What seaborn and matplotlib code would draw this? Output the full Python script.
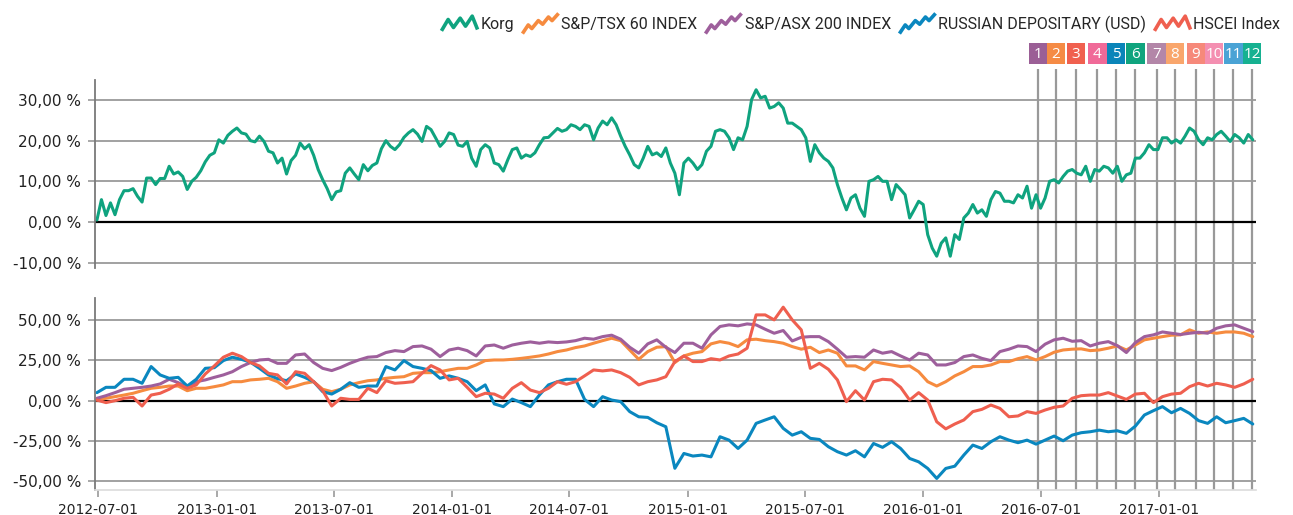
import numpy as np
import pandas as pd
import matplotlib
matplotlib.use("Agg")
import matplotlib.pyplot as plt
import matplotlib.dates as mdates
from matplotlib.lines import Line2D
from matplotlib.markers import MarkerStyle
from matplotlib.path import Path
from matplotlib.patches import Rectangle
from matplotlib.ticker import FuncFormatter
import seaborn as sns


# =====================
# Data (% change since start)
# =====================

# Korg, weekly from 2012-06-29
korg_start = "2012-06-29"
korg = [
    0.5, 5.5, 1.6, 4.7, 1.8, 5.5, 7.7, 7.7, 8.2, 6.3,
    4.9, 10.8, 10.8, 9.2, 10.7, 10.7, 13.7, 11.8, 12.3, 11.2,
    8.0, 10.0, 11.0, 12.6, 14.8, 16.4, 17.0, 20.2, 19.4, 21.3,
    22.3, 23.1, 21.9, 21.6, 20.0, 19.7, 21.1, 19.8, 17.4, 17.0,
    14.5, 15.7, 11.8, 15.1, 16.4, 19.4, 18.0, 19.0, 16.4, 12.9,
    10.4, 8.2, 5.5, 7.4, 7.7, 12.0, 13.3, 11.8, 10.4, 14.1,
    12.6, 13.9, 14.5, 18.0, 20.0, 18.6, 17.8, 19.0, 20.8, 21.9,
    22.7, 21.6, 19.8, 23.5, 22.7, 20.7, 18.6, 19.8, 21.9, 21.5,
    18.9, 18.6, 19.8, 15.7, 13.7, 17.8, 19.0, 18.2, 14.5, 14.1,
    12.5, 15.3, 17.8, 18.2, 15.7, 16.5, 16.1, 17.0, 19.0, 20.7,
    20.8, 21.9, 23.0, 22.3, 22.7, 23.9, 23.5, 22.7, 23.9, 23.5,
    20.2, 23.1, 24.8, 23.9, 25.6, 23.9, 21.1, 18.6, 16.5, 14.1,
    13.3, 15.7, 18.6, 16.5, 17.0, 16.1, 18.2, 14.5, 12.0, 6.7,
    14.5, 15.7, 14.5, 12.9, 14.1, 17.4, 18.6, 22.3, 22.7, 22.3,
    20.7, 17.8, 20.7, 20.2, 23.5, 30.1, 32.5, 30.5, 30.9, 28.0,
    28.4, 29.3, 28.0, 24.3, 24.3, 23.5, 22.7, 20.7, 14.9, 19.0,
    17.0, 15.7, 14.9, 13.3, 9.2, 5.9, 3.0, 5.9, 6.7, 3.4,
    1.4, 10.0, 10.4, 11.2, 10.0, 10.0, 5.5, 9.2, 8.0, 6.7,
    1.0, 3.0, 5.1, 4.3, -3.1, -6.4, -8.4, -5.2, -3.9, -8.4,
    -3.1, -4.3, 1.0, 2.2, 4.3, 2.2, 3.0, 1.4, 5.5, 7.5,
    7.1, 5.1, 5.1, 4.7, 6.7, 5.9, 8.8, 3.4, 6.7, 3.4,
    5.9, 10.0, 10.4, 9.6, 11.2, 12.5, 12.9, 12.0, 11.6, 13.7,
    10.0, 12.9, 12.5, 13.7, 13.3, 12.0, 13.7, 10.0, 11.6, 12.0,
    15.7, 15.7, 17.0, 19.0, 17.8, 17.8, 20.7, 20.7, 19.4, 20.2,
    19.4, 21.1, 23.1, 22.3, 20.2, 19.0, 20.7, 20.2, 21.5, 22.3,
    21.1, 19.8, 21.5, 20.7, 19.4, 21.5, 20.2,
]

# indices, every two weeks from 2012-06-29
index_start = "2012-06-29"

tsx60 = [
    0.4, 1.5, 2.5, 3.5, 4.6, 6.2, 7.7, 8.3, 9.1, 9.1,
    6.2, 7.7, 7.7, 8.7, 9.8, 11.8, 11.8, 12.9, 13.3, 13.9,
    11.8, 7.7, 9.1, 10.8, 11.8, 7.1, 5.6, 7.1, 9.8, 11.2,
    12.4, 12.9, 13.9, 14.5, 14.9, 17.0, 17.4, 17.4, 18.0, 19.1,
    20.1, 20.1, 22.2, 24.9, 25.3, 25.3, 25.7, 26.3, 27.0, 27.8,
    29.0, 30.5, 31.5, 33.0, 34.0, 35.7, 37.3, 38.8, 37.3, 31.5,
    25.7, 30.5, 33.2, 33.6, 23.7, 27.8, 29.5, 30.5, 35.3, 36.7,
    35.7, 33.6, 37.8, 38.2, 37.3, 36.7, 35.7, 33.6, 32.0, 33.2,
    29.9, 31.5, 29.5, 21.6, 21.6, 19.1, 24.3, 23.2, 22.2, 21.2,
    21.6, 18.0, 11.8, 9.1, 11.8, 15.4, 18.0, 21.2, 21.2, 22.2,
    24.3, 24.3, 26.1, 27.4, 25.3, 27.4, 30.1, 31.5, 32.0, 32.2,
    31.1, 31.5, 32.6, 34.0, 31.5, 34.6, 37.8, 38.8, 39.8, 40.7,
    40.9, 44.0, 41.9, 42.7, 41.9, 42.7, 42.7, 41.9, 39.8,
]

asx200 = [
    1.5, 3.1, 5.0, 7.1, 7.7, 8.3, 9.1, 10.4, 13.3, 11.2,
    8.3, 11.8, 12.9, 14.5, 16.0, 18.0, 21.2, 23.7, 25.3, 25.7,
    23.2, 23.2, 28.4, 29.0, 23.7, 20.1, 18.7, 20.7, 23.2, 25.3,
    27.0, 27.4, 29.9, 31.1, 30.5, 33.6, 34.0, 32.0, 27.4, 31.5,
    32.6, 31.1, 27.8, 34.0, 34.6, 32.6, 34.6, 35.7, 36.5, 35.7,
    36.5, 36.1, 36.5, 37.3, 38.8, 38.2, 39.8, 40.7, 38.2, 33.2,
    29.5, 35.3, 37.8, 33.2, 29.9, 35.7, 35.7, 32.6, 40.9, 46.1,
    47.1, 46.5, 47.7, 47.1, 44.4, 41.9, 43.6, 37.1, 39.4, 39.8,
    39.8, 36.7, 32.0, 27.0, 27.4, 27.0, 31.5, 29.5, 30.5, 27.8,
    25.3, 29.5, 28.4, 22.2, 22.2, 23.7, 27.4, 28.4, 26.3, 24.9,
    30.5, 32.0, 34.0, 33.6, 30.5, 35.1, 37.8, 38.8, 36.9, 37.3,
    34.0, 35.7, 36.7, 34.2, 29.9, 36.1, 39.8, 40.9, 42.7, 41.9,
    41.1, 41.9, 42.5, 41.9, 45.0, 46.5, 47.1, 45.0, 42.9,
]

russian_usd = [
    5.0, 8.3, 8.3, 13.3, 13.3, 10.8, 21.2, 16.0, 13.9, 14.5,
    9.1, 13.3, 20.1, 20.5, 24.9, 27.0, 25.7, 23.9, 20.1, 16.0,
    13.7, 12.4, 16.6, 14.5, 11.8, 5.6, 4.1, 7.1, 11.2, 8.3,
    9.1, 9.1, 21.2, 19.1, 24.9, 21.2, 20.1, 18.7, 13.9, 15.4,
    13.9, 11.8, 6.2, 9.8, -2.0, -3.7, 1.0, -1.2, -3.7, 3.5,
    9.8, 11.8, 13.3, 13.3, 0.8, -3.7, 2.5, 0.4, -0.6, -6.8,
    -10.0, -10.4, -13.7, -16.2, -42.0, -32.8, -34.4, -33.8, -34.9, -22.4,
    -24.5, -29.7, -24.5, -14.1, -12.0, -10.0, -17.2, -21.4, -19.3, -23.4,
    -24.1, -28.6, -31.7, -33.8, -31.1, -34.9, -26.6, -29.0, -25.5, -29.7,
    -35.9, -38.0, -42.1, -48.3, -42.1, -40.7, -33.8, -27.6, -29.7, -25.5,
    -22.4, -24.5, -26.1, -24.5, -27.0, -24.5, -22.0, -24.9, -21.4, -19.9,
    -19.3, -18.3, -19.3, -18.7, -20.3, -15.8, -8.9, -6.2, -3.7, -7.5,
    -4.8, -7.9, -12.4, -14.1, -10.0, -13.7, -12.4, -11.0, -14.5,
]

hscei = [
    0.4, -1.2, 0.0, 1.5, 2.1, -3.3, 3.5, 4.6, 7.1, 10.4,
    7.7, 9.8, 16.6, 21.6, 27.0, 29.5, 27.4, 23.7, 21.6, 17.0,
    16.0, 10.4, 18.0, 17.0, 11.8, 6.2, -3.3, 1.5, 0.8, 0.8,
    7.7, 5.0, 12.4, 10.8, 11.2, 11.8, 17.0, 21.8, 19.1, 12.9,
    13.9, 8.3, 2.5, 4.6, 4.1, 1.5, 7.7, 11.2, 6.6, 5.0,
    7.7, 11.8, 10.2, 11.8, 15.4, 19.1, 18.5, 19.1, 17.4, 14.5,
    9.8, 11.8, 12.9, 14.9, 24.3, 27.8, 24.3, 24.3, 26.1, 25.3,
    27.8, 29.0, 32.6, 53.3, 53.3, 50.2, 58.1, 50.2, 44.0, 20.1,
    23.2, 19.5, 12.9, -0.6, 6.2, 0.4, 11.8, 13.3, 12.9, 8.3,
    0.4, 5.0, 0.4, -13.1, -17.5, -14.5, -12.0, -6.8, -5.4, -2.7,
    -4.8, -10.0, -9.5, -6.8, -7.9, -5.8, -4.1, -3.3, 1.5, 3.1,
    3.5, 3.5, 5.0, 2.9, 0.8, 4.1, 4.6, -1.2, 2.5, 4.1,
    4.6, 8.7, 10.8, 9.1, 10.8, 9.8, 8.3, 10.4, 13.3,
]

series_names = [
    "S&P/TSX 60 INDEX",
    "S&P/ASX 200 INDEX",
    "RUSSIAN DEPOSITARY (USD)",
    "HSCEI Index",
]
series_values = [tsx60, asx200, russian_usd, hscei]

event_dates = [
    "2016-06-27", "2016-07-25", "2016-08-25", "2016-09-27",
    "2016-10-26", "2016-11-25", "2016-12-28", "2017-01-25",
    "2017-02-27", "2017-03-27", "2017-04-26", "2017-05-25",
]
event_labels = [str(n) for n in range(1, 13)]

x_ticks = [
    "2012-07-01", "2013-01-01", "2013-07-01", "2014-01-01", "2014-07-01",
    "2015-01-01", "2015-07-01", "2016-01-01", "2016-07-01", "2017-01-01",
]


# =====================
# Styles
# =====================

korg_color = "#0fa37f"
palette = {
    "S&P/TSX 60 INDEX": "#f68b3f",
    "S&P/ASX 200 INDEX": "#9e5f9c",
    "RUSSIAN DEPOSITARY (USD)": "#0a87bf",
    "HSCEI Index": "#ef5f4f",
}
event_colors = [
    "#9b5f96", "#f58b45", "#f0604f", "#f06a98", "#0a85b9", "#10a47e",
    "#b386a8", "#f9a66c", "#f6897a", "#f48fb1", "#4aa3d5", "#16b191",
]
grid_color = "#9a9a9a"

sns.set_theme(style="white")
plt.rcParams["font.family"] = ["DejaVu Sans"]


# =====================
# Frames
# =====================

korg_df = pd.DataFrame({
    "date": pd.date_range(korg_start, periods=len(korg), freq="7D"),
    "value": korg,
})

frames = []
for name, vals in zip(series_names, series_values):
    frames.append(pd.DataFrame({
        "date": pd.date_range(index_start, periods=len(vals), freq="14D"),
        "value": vals,
        "series": name,
    }))
index_df = pd.concat(frames, ignore_index=True)

x_min = pd.Timestamp("2012-06-26")
x_max = pd.Timestamp("2017-05-31")


# =====================
# Figure layout (pixel boxes)
# =====================

W, H = 1293, 515

def px_box(left, top, right, bottom):
    return [left / W, 1 - bottom / H, (right - left) / W, (bottom - top) / H]


fig = plt.figure(figsize=(W / 100, H / 100), dpi=100)

ax_ev = fig.add_axes(px_box(95, 40, 1256, 490), zorder=0)
ax_top = fig.add_axes(px_box(95, 80, 1256, 268), zorder=1)
ax_bot = fig.add_axes(px_box(95, 298, 1256, 490), zorder=1)


# =====================
# Lines
# =====================

sns.lineplot(
    data=korg_df,
    x="date",
    y="value",
    color=korg_color,
    linewidth=2.2,
    ax=ax_top
)

sns.lineplot(
    data=index_df,
    x="date",
    y="value",
    hue="series",
    hue_order=series_names,
    palette=palette,
    linewidth=2.2,
    legend=False,
    ax=ax_bot
)


# =====================
# Axes styling
# =====================

pct_fmt = FuncFormatter(lambda v, _: f"{v:.2f}".replace(".", ",") + " %")

for ax, lims, ticks in [
    (ax_top, (-11.3, 34.9), [-10, 0, 10, 20, 30]),
    (ax_bot, (-55.5, 63.8), [-50, -25, 0, 25, 50]),
]:
    ax.set_facecolor("none")
    ax.set_xlim(x_min, x_max)
    ax.set_ylim(*lims)
    ax.set_yticks(ticks)
    ax.yaxis.set_major_formatter(pct_fmt)
    ax.set_xlabel("")
    ax.set_ylabel("")
    ax.set_axisbelow(True)
    ax.yaxis.grid(True, color=grid_color, linewidth=1.3)
    ax.xaxis.grid(False)
    ax.axhline(0, color="black", linewidth=1.6, zorder=1.5)
    for side in ["top", "right", "bottom"]:
        ax.spines[side].set_visible(False)
    ax.spines["left"].set_color("#7a7a7a")
    ax.spines["left"].set_linewidth(1.3)
    ax.tick_params(
        axis="y",
        left=True,
        length=5,
        width=1.2,
        color=grid_color,
        labelsize=11,
        labelcolor="#222222",
        pad=5
    )

ax_top.tick_params(axis="x", bottom=False, labelbottom=False)

ax_bot.spines["bottom"].set_visible(True)
ax_bot.spines["bottom"].set_color("#dddddd")
ax_bot.set_xticks(pd.to_datetime(x_ticks))
ax_bot.xaxis.set_major_formatter(mdates.DateFormatter("%Y-%m-%d"))
ax_bot.tick_params(
    axis="x",
    bottom=True,
    length=5,
    width=1.2,
    color=grid_color,
    labelsize=10,
    labelcolor="#222222",
    pad=4
)


# =====================
# Event markers
# =====================

ax_ev.set_xlim(x_min, x_max)
ax_ev.set_ylim(490, 40)
ax_ev.axis("off")

ev = pd.to_datetime(event_dates)
ax_ev.vlines(ev, 69, 490, color="#999999", linewidth=1.6)

half = pd.Timedelta(days=14.3)
for d, lab, col in zip(ev, event_labels, event_colors):
    x0 = mdates.date2num(d - half)
    x1 = mdates.date2num(d + half)
    ax_ev.add_patch(Rectangle((x0, 43), x1 - x0, 21, color=col, lw=0, clip_on=False))
    ax_ev.text(
        mdates.date2num(d), 54, lab,
        ha="center", va="center",
        color="white", fontsize=11,
        family=["Open Sans", "DejaVu Sans"],
        clip_on=False
    )


# =====================
# Legend with zigzag icons
# =====================

def zigzag(points):
    v = np.array(points, dtype=float)
    v -= (v.max(axis=0) + v.min(axis=0)) / 2
    codes = [Path.MOVETO] + [Path.LINETO] * (len(v) - 1)
    return MarkerStyle(Path(v, codes), joinstyle="round")


peak_icon = zigzag([(0, 0.3), (1, 2.0), (1.8, 0.8), (2.8, 2.2), (3.6, 1.0), (4.6, 2.5), (5.4, 0.5)])
rise_icon = zigzag([(0, 0), (0.8, 1.2), (1.3, 0.7), (2.2, 1.8), (2.8, 1.3), (3.6, 2.3), (4.1, 1.8), (5.0, 2.8)])

legend_names = ["Korg"] + series_names
legend_colors = [korg_color] + [palette[n] for n in series_names]
legend_icons = [peak_icon, rise_icon, rise_icon, rise_icon, peak_icon]

handles = [
    Line2D(
        [0], [0],
        linestyle="none",
        marker=icon,
        markersize=26,
        markeredgewidth=2.6,
        markeredgecolor=c,
        markerfacecolor="none"
    )
    for c, icon in zip(legend_colors, legend_icons)
]

fig.legend(
    handles,
    legend_names,
    loc="upper right",
    bbox_to_anchor=(1.0, 0.995),
    ncol=5,
    frameon=False,
    numpoints=1,
    handlelength=2.3,
    handletextpad=0.2,
    columnspacing=0.45,
    borderpad=0.3,
    prop={"family": ["Roboto", "DejaVu Sans"], "size": 11.5}
)

fig.savefig("out.png", dpi=100)
